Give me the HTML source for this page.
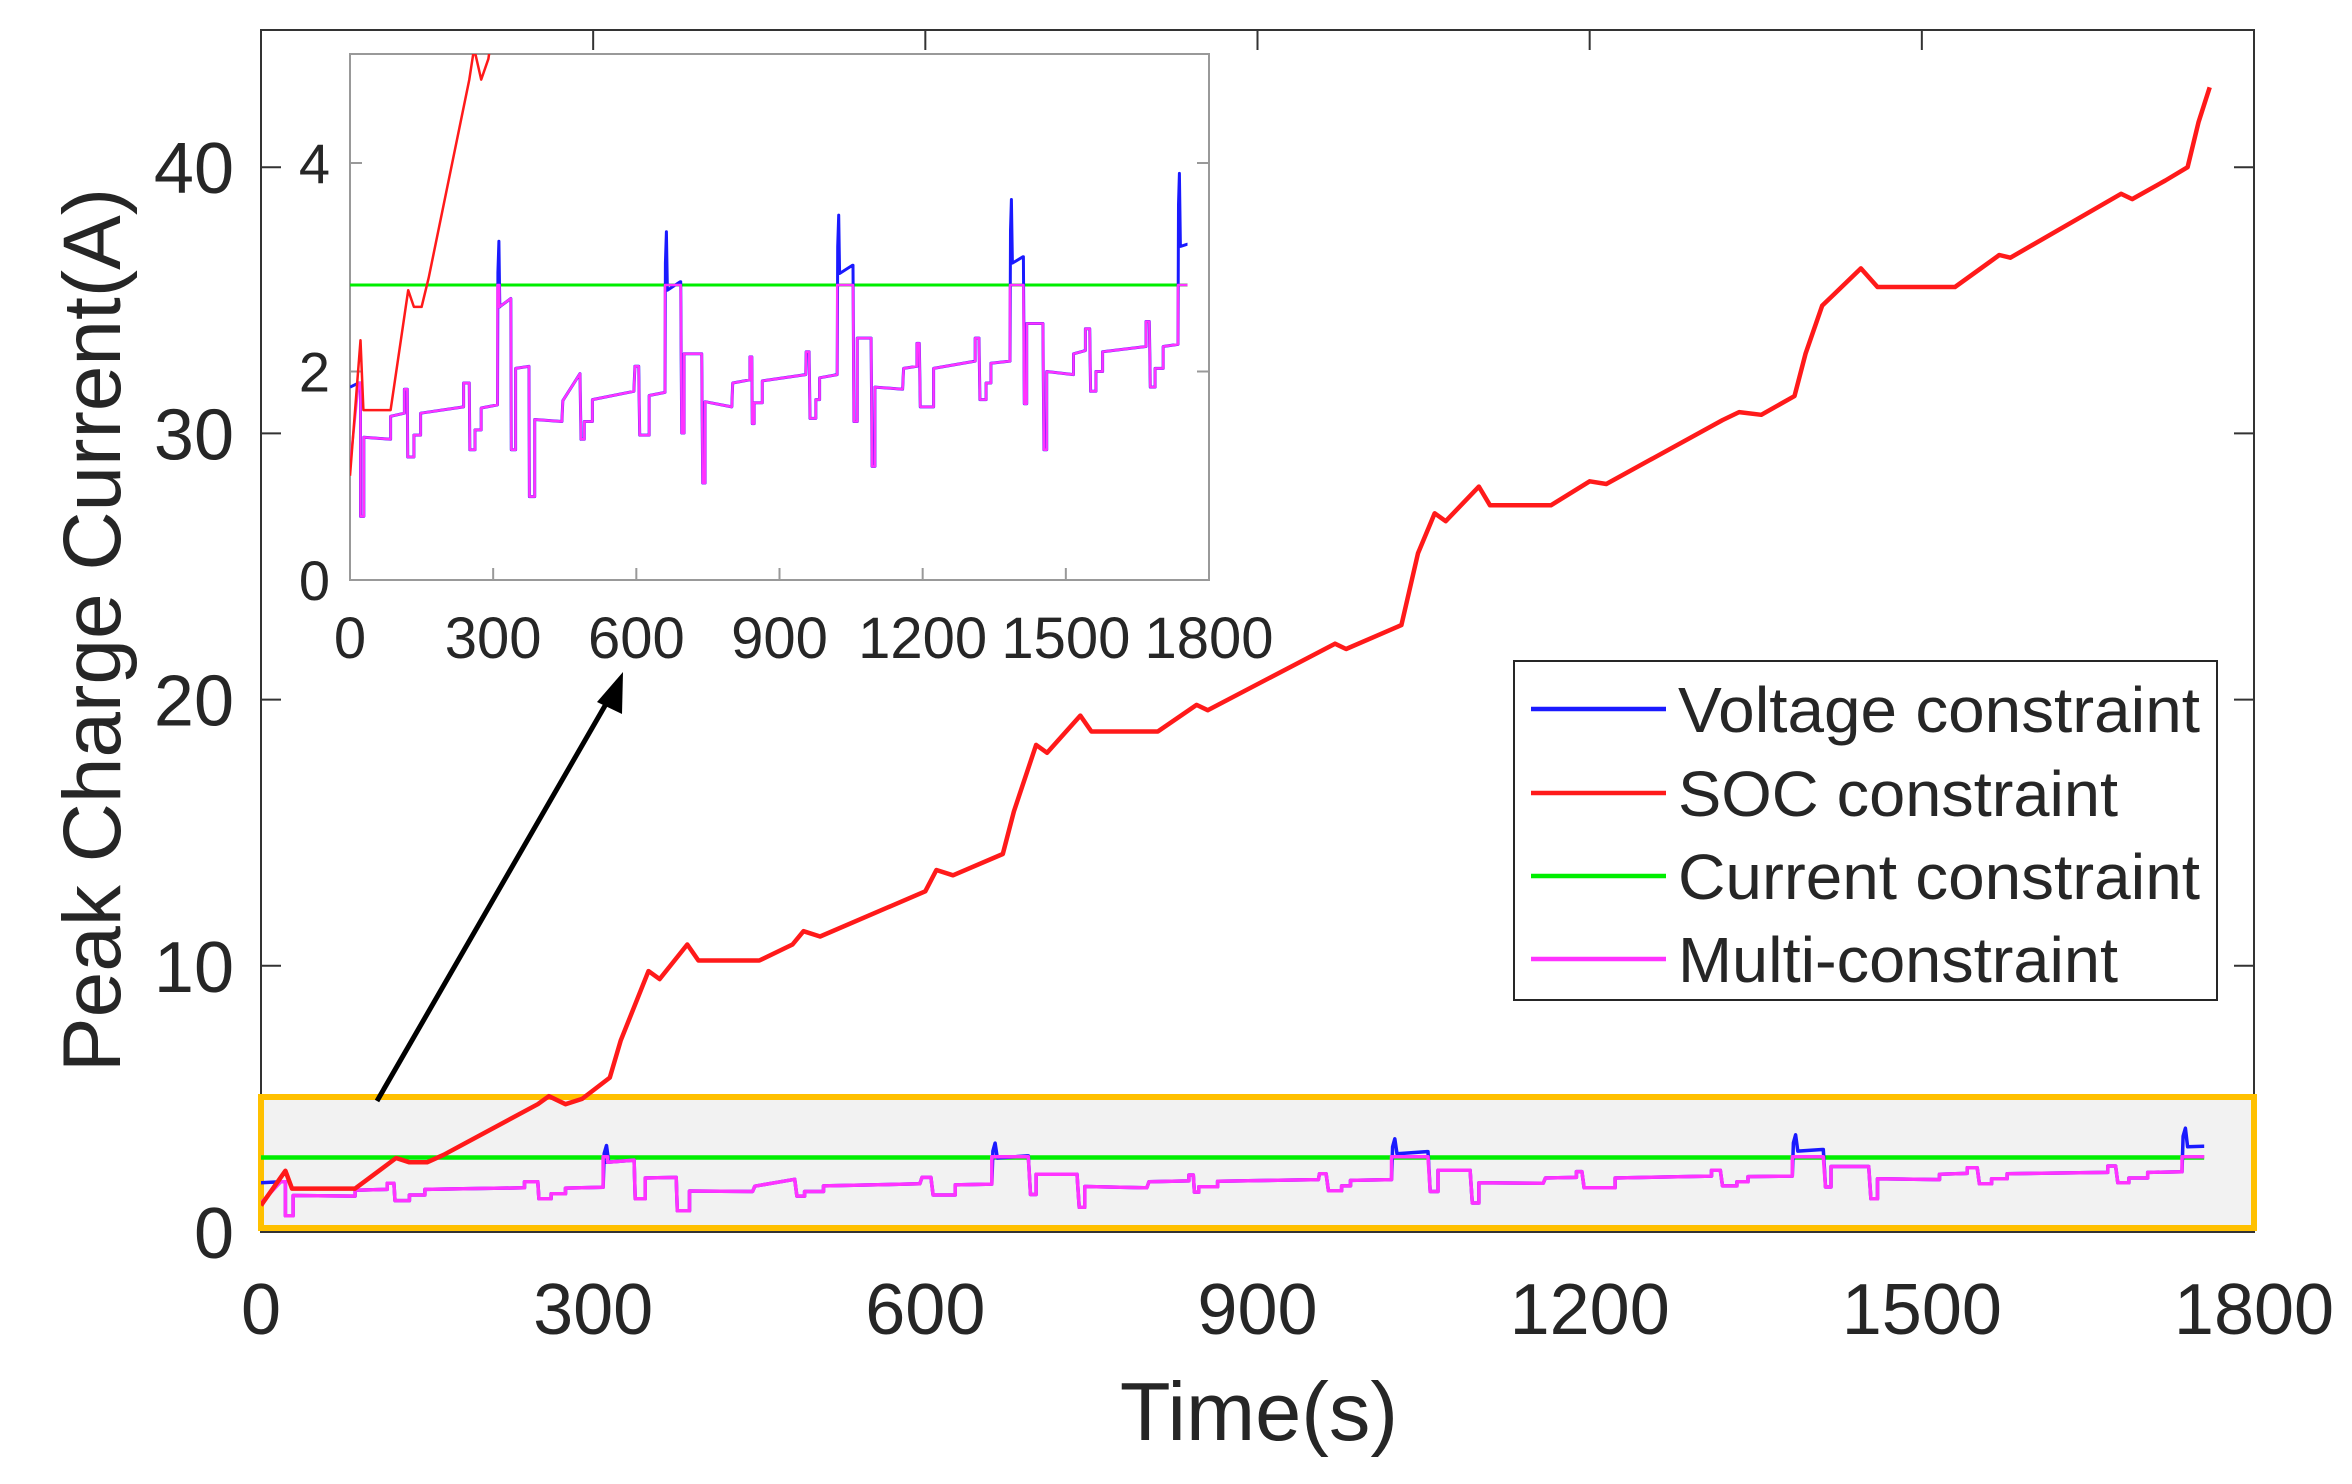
<!DOCTYPE html>
<html><head><meta charset="utf-8"><style>
html,body{margin:0;padding:0;background:#fff;}
svg{display:block;}
text{font-family:"Liberation Sans",Arial,sans-serif;fill:#262626;}
</style></head><body>
<svg id="s" width="2352" height="1484" viewBox="0 0 2352 1484" xmlns="http://www.w3.org/2000/svg">
<defs>
<clipPath id="cm"><rect x="261" y="30" width="1993" height="1202"/></clipPath>
<clipPath id="ci"><rect x="350" y="54" width="859" height="526"/></clipPath>
</defs>
<g id="main"></g>
</svg>
<script>
var NS="http://www.w3.org/2000/svg";
var S=document.getElementById('main');
function el(t,a,txt,p){var e=document.createElementNS(NS,t);for(var k in a)e.setAttribute(k,a[k]);if(txt!=null)e.textContent=txt;(p||S).appendChild(e);return e;}
var red=[[0,1],[22,2.3],[28,1.63],[85,1.63],[122,2.78],[134,2.62],[150,2.62],[165,2.9],[250,4.8],[260,5.1],[275,4.8],[290,5],[315,5.8],[325,7.2],[350,9.8],[360,9.5],[385,10.8],[395,10.2],[450,10.2],[480,10.8],[490,11.3],[505,11.1],[600,12.8],[610,13.6],[625,13.4],[670,14.2],[680,15.8],[700,18.3],[710,18],[740,19.4],[750,18.8],[810,18.8],[845,19.8],[855,19.6],[970,22.1],[980,21.9],[1030,22.8],[1045,25.5],[1060,27],[1070,26.7],[1100,28],[1110,27.3],[1165,27.3],[1200,28.2],[1215,28.1],[1320,30.5],[1335,30.8],[1355,30.7],[1385,31.4],[1395,33],[1410,34.8],[1420,35.2],[1445,36.2],[1460,35.5],[1530,35.5],[1560,36.4],[1570,36.7],[1580,36.6],[1680,39],[1690,38.8],[1720,39.5],[1740,40],[1750,41.7],[1760,43]];
var mag=[[0,1.09],[18,1.89],[22,1.89],[22,0.61],[29,0.61],[29,1.37],[85,1.35],[85,1.57],[114,1.6],[114,1.83],[120,1.83],[121,1.18],[134,1.18],[134,1.39],[148,1.39],[148,1.6],[238,1.66],[238,1.89],[250,1.89],[251,1.25],[262,1.25],[262,1.44],[275,1.44],[275,1.65],[309,1.68],[309,2.83],[313,2.83],[313,2.62],[337,2.7],[338,1.25],[347,1.25],[347,2.03],[375,2.05],[376,0.8],[387,0.8],[387,1.54],[444,1.52],[446,1.72],[482,1.98],[484,1.35],[491,1.35],[491,1.52],[508,1.52],[508,1.73],[595,1.81],[597,2.05],[605,2.05],[607,1.39],[627,1.39],[627,1.77],[660,1.8],[660,2.83],[693,2.83],[695,1.41],[700,1.41],[700,2.17],[737,2.17],[739,0.93],[744,0.93],[744,1.71],[800,1.66],[802,1.89],[838,1.92],[838,2.14],[842,2.14],[843,1.5],[847,1.5],[847,1.7],[864,1.7],[864,1.91],[955,1.97],[956,2.19],[962,2.19],[964,1.55],[976,1.55],[976,1.73],[984,1.73],[984,1.94],[1021,1.97],[1021,2.83],[1054,2.83],[1056,1.52],[1063,1.52],[1063,2.32],[1092,2.32],[1094,1.09],[1100,1.09],[1100,1.85],[1158,1.83],[1160,2.03],[1188,2.05],[1188,2.27],[1193,2.27],[1195,1.66],[1223,1.66],[1223,2.03],[1310,2.1],[1310,2.32],[1318,2.32],[1320,1.73],[1333,1.73],[1333,1.89],[1343,1.89],[1343,2.08],[1383,2.1],[1383,2.83],[1411,2.83],[1413,1.69],[1418,1.69],[1418,2.46],[1452,2.46],[1454,1.25],[1460,1.25],[1460,2.0],[1516,1.97],[1516,2.17],[1541,2.2],[1541,2.41],[1550,2.41],[1552,1.81],[1563,1.81],[1563,2.0],[1577,2.0],[1577,2.19],[1668,2.24],[1668,2.48],[1675,2.48],[1677,1.85],[1687,1.85],[1687,2.03],[1704,2.03],[1704,2.24],[1735,2.26],[1735,2.83],[1755,2.83]];
var spikes=[[309,313,3.25,2.62,2.62],[660,693,3.34,2.78,2.86],[1021,1054,3.5,2.94,3.02],[1383,1411,3.65,3.04,3.1],[1735,1755,3.9,3.2,3.22]];
var blue=[];
for(var i=0;i<mag.length;i++){
  var t=mag[i][0],v=mag[i][1];
  var sp=null;for(var j=0;j<spikes.length;j++)if(t>=spikes[j][0]&&t<=spikes[j][1]&&v>2.8)sp=spikes[j];
  if(sp){ if(t==sp[0]){blue.push([t,mag[i-1][1]]);blue.push([t+1,sp[2]-0.3]);blue.push([t+3,sp[2]]);blue.push([t+5,sp[3]]);blue.push([sp[1]-1,sp[4]]);blue.push([sp[1],sp[4]]);} }
  else blue.push([t,v]);
}
blue=[[0,1.85],[18,1.89]].concat(blue.slice(2));
function path(d,fx,fy){var s="";for(var i=0;i<d.length;i++)s+=(i?"L":"M")+fx(d[i][0]).toFixed(1)+","+fy(d[i][1]).toFixed(1);return s;}
var mx=function(t){return 261+t*1993/1800;}, my=function(v){return 1232-v*26.62;};
el('rect',{x:261,y:30,width:1993,height:1202,fill:'#fff',stroke:'#333','stroke-width':2});
[0,300,600,900,1200,1500,1800].forEach(function(t){var x=mx(t);el('line',{x1:x,y1:1232,x2:x,y2:1212,stroke:'#333','stroke-width':2});el('line',{x1:x,y1:30,x2:x,y2:50,stroke:'#333','stroke-width':2});el('text',{x:x,y:1334,'font-size':72,'text-anchor':'middle'},String(t));});
[0,10,20,30,40].forEach(function(v){var y=my(v);el('line',{x1:261,y1:y,x2:281,y2:y,stroke:'#333','stroke-width':2});el('line',{x1:2234,y1:y,x2:2254,y2:y,stroke:'#333','stroke-width':2});el('text',{x:234,y:y+26,'font-size':72,'text-anchor':'end'},String(v));});
el('text',{x:1259,y:1440,'font-size':83,'text-anchor':'middle'},'Time(s)');
el('text',{x:0,y:0,'font-size':82,'text-anchor':'middle',transform:'translate(120,630) rotate(-90)'},'Peak Charge Current(A)');
el('rect',{x:261,y:1097,width:1993,height:131,fill:'#f2f2f2',stroke:'#ffc000','stroke-width':6});
var gm=el('g',{'clip-path':'url(#cm)',fill:'none','stroke-linejoin':'round'});
el('line',{x1:mx(0),y1:my(2.8),x2:mx(1755),y2:my(2.8),stroke:'#00ee00','stroke-width':4.5},null,gm);
el('path',{d:path(blue,mx,my),stroke:'#1a1aff','stroke-width':3.5},null,gm);
el('path',{d:path(mag,mx,my),stroke:'#ff33ff','stroke-width':3.5},null,gm);
el('path',{d:path(red,mx,my),stroke:'#ff1a1a','stroke-width':4.5},null,gm);
el('line',{x1:377,y1:1101,x2:610,y2:697,stroke:'#000','stroke-width':5});
el('path',{d:'M623,672 L597,702 L622,714 Z',fill:'#000'});
var ix=function(t){return 350+t*859/1800;}, iy=function(v){return 580-v*104.25;};
el('rect',{x:350,y:54,width:859,height:526,fill:'#fff',stroke:'#999','stroke-width':2});
[0,300,600,900,1200,1500,1800].forEach(function(t){var x=ix(t);el('line',{x1:x,y1:580,x2:x,y2:568,stroke:'#999','stroke-width':2});el('text',{x:x,y:658,'font-size':58,'text-anchor':'middle'},String(t));});
[0,2,4].forEach(function(v){var y=iy(v);el('line',{x1:350,y1:y,x2:362,y2:y,stroke:'#999','stroke-width':2});el('line',{x1:1197,y1:y,x2:1209,y2:y,stroke:'#999','stroke-width':2});el('text',{x:330,y:y+20,'font-size':56,'text-anchor':'end'},String(v));});
var gi=el('g',{'clip-path':'url(#ci)',fill:'none','stroke-linejoin':'round'});
el('line',{x1:ix(0),y1:iy(2.83),x2:ix(1755),y2:iy(2.83),stroke:'#00ee00','stroke-width':3},null,gi);
el('path',{d:path(blue,ix,iy),stroke:'#1a1aff','stroke-width':3},null,gi);
el('path',{d:path(mag,ix,iy),stroke:'#ff33ff','stroke-width':2.5},null,gi);
el('path',{d:path(red,ix,iy),stroke:'#ff1a1a','stroke-width':2.5},null,gi);
el('rect',{x:1514,y:661,width:703,height:339,fill:'#fff',stroke:'#262626','stroke-width':2});
[['Voltage constraint','#1a1aff',709],['SOC constraint','#ff1a1a',793],['Current constraint','#00ee00',876],['Multi-constraint','#ff33ff',959]].forEach(function(r){
 el('line',{x1:1531,y1:r[2],x2:1666,y2:r[2],stroke:r[1],'stroke-width':4.5});
 el('text',{x:1678,y:r[2]+23,'font-size':64,textLength:r[0].length>16?522:440,lengthAdjust:'spacingAndGlyphs'},r[0]);
});
</script>
</body></html>
